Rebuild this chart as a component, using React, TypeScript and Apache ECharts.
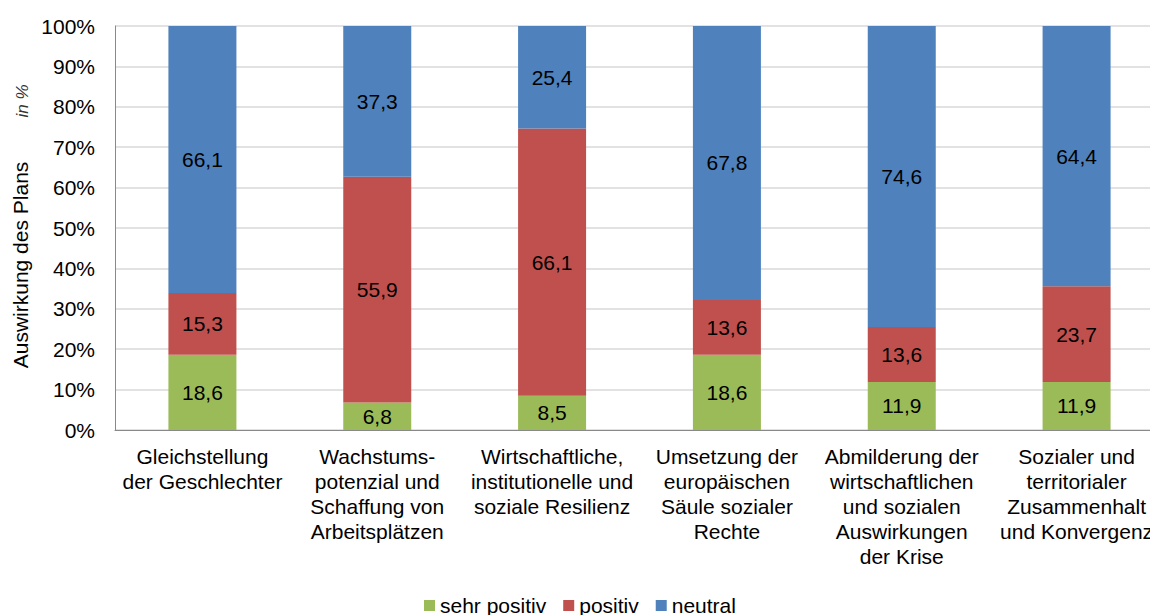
import React, { useEffect, useRef } from "react";
import * as echarts from "echarts";

const categories = [
  "Gleichstellung\nder Geschlechter",
  "Wachstums-\npotenzial und\nSchaffung von\nArbeitsplätzen",
  "Wirtschaftliche,\ninstitutionelle und\nsoziale Resilienz",
  "Umsetzung der\neuropäischen\nSäule sozialer\nRechte",
  "Abmilderung der\nwirtschaftlichen\nund sozialen\nAuswirkungen\nder Krise",
  "Sozialer und\nterritorialer\nZusammenhalt\nund Konvergenz",
];
const sehrPositiv = [18.6, 6.8, 8.5, 18.6, 11.9, 11.9];
const positiv = [15.3, 55.9, 66.1, 13.6, 13.6, 23.7];
const neutral = [66.1, 37.3, 25.4, 67.8, 74.6, 64.4];

const FONT = "'Liberation Sans', Arial, sans-serif";

export default function App() {
  const ref = useRef<HTMLDivElement>(null);
  useEffect(() => {
    if (!ref.current) return;
    const chart = echarts.init(ref.current, undefined, { renderer: "svg" });
    const label = {
      show: true,
      position: "inside",
      color: "#000",
      fontSize: 21,
      fontFamily: FONT,
      formatter: (p: any) => Number(p.value).toFixed(1).replace(".", ","),
    };
    const mk = (name: string, data: number[], color: string) => ({
      name,
      type: "bar",
      stack: "total",
      data,
      barWidth: 68,
      itemStyle: { color },
      label,
    });
    chart.setOption({
      animation: false,
      textStyle: { fontFamily: FONT },
      grid: { left: 115, right: 0, top: 26, bottom: 185, containLabel: false },
      legend: {
        left: 419,
        top: 590,
        itemWidth: 11,
        itemHeight: 11,
        itemGap: 17,
        icon: "rect",
        textStyle: { fontSize: 21, color: "#000", fontFamily: FONT },
        data: ["sehr positiv", "positiv", "neutral"],
      },
      xAxis: {
        type: "category",
        data: categories,
        axisLine: { lineStyle: { color: "#898989", width: 1 } },
        axisTick: { show: false },
        axisLabel: {
          interval: 0,
          color: "#000",
          fontSize: 21,
          fontFamily: FONT,
          lineHeight: 25,
          margin: 14,
          align: "center",
        },
      },
      yAxis: {
        type: "value",
        min: 0,
        max: 100,
        interval: 10,
        axisLine: { show: true, lineStyle: { color: "#898989" } },
        axisTick: { show: false },
        splitLine: { lineStyle: { color: "#d9d9d9", width: 1.5 } },
        axisLabel: {
          color: "#000",
          fontSize: 21,
          fontFamily: FONT,
          margin: 20,
          formatter: (v: number) => v + "%",
        },
      },
      graphic: [
        {
          type: "text",
          x: 20,
          y: 265,
          rotation: Math.PI / 2,
          style: {
            text: "Auswirkung des Plans",
            fontSize: 21,
            fontFamily: FONT,
            fill: "#000",
            align: "center",
            verticalAlign: "middle",
          },
        },
        {
          type: "text",
          x: 22,
          y: 101,
          rotation: Math.PI / 2,
          style: {
            text: "in %",
            fontSize: 17,
            fontStyle: "italic",
            fontFamily: FONT,
            fill: "#333",
            align: "center",
            verticalAlign: "middle",
          },
        },
      ],
      series: [
        mk("sehr positiv", sehrPositiv, "#9BBB59"),
        mk("positiv", positiv, "#C0504D"),
        mk("neutral", neutral, "#4F81BD"),
      ],
    });
    return () => chart.dispose();
  }, []);
  return (
    <div
      style={{
        position: "fixed",
        left: 0,
        top: 0,
        width: 1150,
        height: 615,
        overflow: "hidden",
        background: "#fff",
      }}
    >
      <div ref={ref} style={{ width: 1164, height: 615 }} />
    </div>
  );
}
